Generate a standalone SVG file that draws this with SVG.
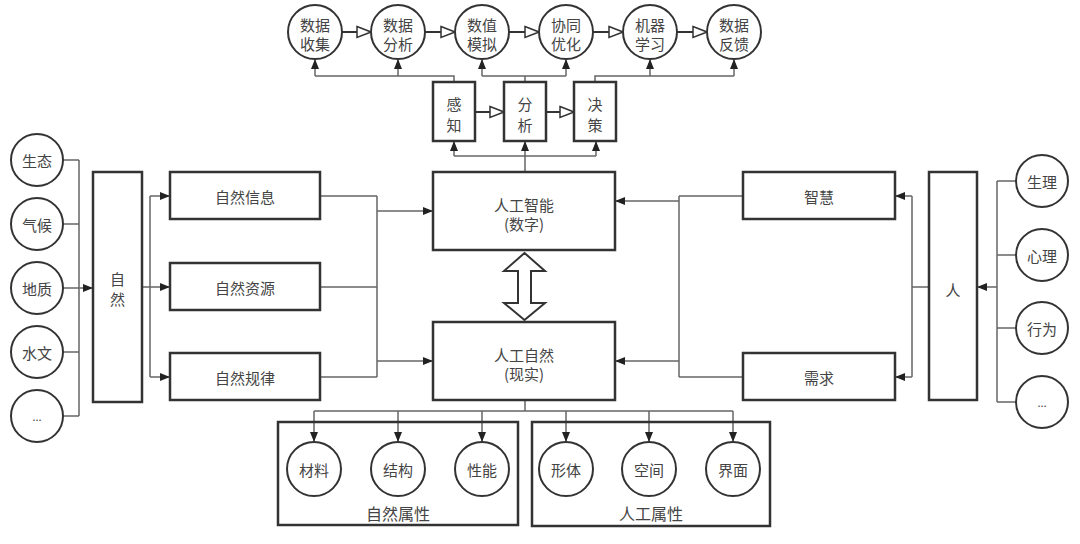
<svg xmlns="http://www.w3.org/2000/svg" width="1080" height="544" viewBox="0 0 1080 544">
<style>
.box{fill:#fff;stroke:#333;stroke-width:2.5}
.cir{fill:#fff;stroke:#333;stroke-width:2}
.ln{fill:none;stroke:#666;stroke-width:1.5}
.ar{fill:none;stroke:#666;stroke-width:1.5;marker-end:url(#fa)}
.ho{fill:none;stroke:#333;stroke-width:2;marker-end:url(#ha)}
.t{font-family:"Noto Sans CJK SC","Noto Sans",sans-serif;font-size:15px;fill:#444;text-anchor:middle;dominant-baseline:central}
.tl{font-size:16px}
</style>
<defs>
<marker id="fa" markerUnits="userSpaceOnUse" markerWidth="10" markerHeight="8" refX="10" refY="4" orient="auto"><path d="M0,0 L10,4 L0,8 z" fill="#222"/></marker>
<marker id="ha" markerUnits="userSpaceOnUse" markerWidth="16" markerHeight="14" refX="15" refY="7" orient="auto"><path d="M1,1.5 L15,7 L1,12.5 z" fill="#fff" stroke="#333" stroke-width="1.5"/></marker>
</defs>
<rect width="1080" height="544" fill="#fff"/>

<g id="connectors">
<path class="ho" d="M342,32 H371"/>
<path class="ho" d="M425,32 H455"/>
<path class="ho" d="M509,32 H539"/>
<path class="ho" d="M593,32 H623"/>
<path class="ho" d="M677,32 H707"/>
<path class="ln" d="M454,82 V76 H315"/>
<path class="ar" d="M315,76 V59"/>
<path class="ar" d="M398,76 V59"/>
<path class="ln" d="M525,82 V76 M482,76 H566"/>
<path class="ar" d="M482,76 V59"/>
<path class="ar" d="M566,76 V59"/>
<path class="ln" d="M595,82 V76 H734"/>
<path class="ar" d="M650,76 V59"/>
<path class="ar" d="M734,76 V59"/>
<path class="ho" d="M475,112 H504"/>
<path class="ho" d="M546,112 H574"/>
<path class="ln" d="M454,156 H596"/>
<path class="ar" d="M525,172 V141"/>
<path class="ar" d="M454,156 V141"/>
<path class="ar" d="M596,156 V141"/>
<path class="ln" d="M63,160 H79 M63,224 H79 M63,352 H79 M63,416 H79 M79,160 V416"/>
<path class="ar" d="M63,288 H93"/>
<path class="ln" d="M142,287 H150 M150,196 V377"/>
<path class="ar" d="M150,196 H170"/>
<path class="ar" d="M150,287 H170"/>
<path class="ar" d="M150,377 H170"/>
<path class="ln" d="M320,196 H377 M320,287 H377 M320,377 H377 M377,196 V377"/>
<path class="ar" d="M377,211 H433"/>
<path class="ar" d="M377,361 H433"/>
<path d="M524.5,253 L545,271 L531,271 L531,303 L545,303 L524.5,320 L504,303 L518,303 L518,271 L504,271 Z" fill="#fff" stroke="#333" stroke-width="2"/>
<path class="ln" d="M743,196 H679 M743,377 H679 M679,196 V377"/>
<path class="ar" d="M679,201 H615"/>
<path class="ar" d="M679,361 H615"/>
<path class="ln" d="M929,287 H912 M912,196 V377"/>
<path class="ar" d="M912,196 H895"/>
<path class="ar" d="M912,377 H895"/>
<path class="ln" d="M1016,181 H997 M1016,255 H997 M1016,328 H997 M1016,402 H997 M997,181 V402"/>
<path class="ar" d="M997,287 H977"/>
<path class="ln" d="M525,400 V411 M314,411 H733"/>
<path class="ar" d="M314,411 V442"/>
<path class="ar" d="M398,411 V442"/>
<path class="ar" d="M482,411 V442"/>
<path class="ar" d="M566,411 V442"/>
<path class="ar" d="M649,411 V442"/>
<path class="ar" d="M733,411 V442"/>
</g>

<g id="c-sjsj"><circle class="cir" cx="315" cy="32" r="27"/><text class="t" x="315" y="24">数据</text><text class="t" x="315" y="43">收集</text></g>
<g id="c-sjfx"><circle class="cir" cx="398" cy="32" r="27"/><text class="t" x="398" y="24">数据</text><text class="t" x="398" y="43">分析</text></g>
<g id="c-szmn"><circle class="cir" cx="482" cy="32" r="27"/><text class="t" x="482" y="24">数值</text><text class="t" x="482" y="43">模拟</text></g>
<g id="c-xtyh"><circle class="cir" cx="566" cy="32" r="27"/><text class="t" x="566" y="24">协同</text><text class="t" x="566" y="43">优化</text></g>
<g id="c-jqxx"><circle class="cir" cx="650" cy="32" r="27"/><text class="t" x="650" y="24">机器</text><text class="t" x="650" y="43">学习</text></g>
<g id="c-sjfk"><circle class="cir" cx="734" cy="32" r="27"/><text class="t" x="734" y="24">数据</text><text class="t" x="734" y="43">反馈</text></g>

<g id="b-gz"><rect class="box" x="433" y="82" width="42" height="59"/><text class="t" x="454" y="103">感</text><text class="t" x="454" y="124">知</text></g>
<g id="b-fx"><rect class="box" x="504" y="82" width="42" height="59"/><text class="t" x="525" y="103">分</text><text class="t" x="525" y="124">析</text></g>
<g id="b-jc"><rect class="box" x="574" y="82" width="42" height="59"/><text class="t" x="595" y="103">决</text><text class="t" x="595" y="124">策</text></g>

<g id="c-st"><circle class="cir" cx="37" cy="160" r="26"/><text class="t" x="37" y="160">生态</text></g>
<g id="c-qh"><circle class="cir" cx="37" cy="224" r="26"/><text class="t" x="37" y="224">气候</text></g>
<g id="c-dz"><circle class="cir" cx="37" cy="288" r="26"/><text class="t" x="37" y="288">地质</text></g>
<g id="c-sw"><circle class="cir" cx="37" cy="352" r="26"/><text class="t" x="37" y="352">水文</text></g>
<g id="c-etc1"><circle class="cir" cx="37" cy="416" r="26"/><text class="t" x="37" y="416" style="font-size:11px">...</text></g>

<g id="b-zr"><rect class="box" x="93" y="172" width="49" height="230"/><text class="t" x="117.5" y="278">自</text><text class="t" x="117.5" y="298">然</text></g>

<g id="b-zrxx"><rect class="box" x="170" y="172" width="150" height="47"/><text class="t" x="245" y="196">自然信息</text></g>
<g id="b-zrzy"><rect class="box" x="170" y="263" width="150" height="47"/><text class="t" x="245" y="287">自然资源</text></g>
<g id="b-zrgl"><rect class="box" x="170" y="353" width="150" height="47"/><text class="t" x="245" y="377">自然规律</text></g>

<g id="b-rgzn"><rect class="box" x="433" y="172" width="182" height="78"/><text class="t" x="524" y="204">人工智能</text><text class="t" x="524" y="223">(数字)</text></g>
<g id="b-rgzr"><rect class="box" x="433" y="322" width="182" height="78"/><text class="t" x="524" y="354">人工自然</text><text class="t" x="524" y="373">(现实)</text></g>

<g id="b-zh"><rect class="box" x="743" y="172" width="152" height="47"/><text class="t" x="819" y="196">智慧</text></g>
<g id="b-xq"><rect class="box" x="743" y="353" width="152" height="47"/><text class="t" x="819" y="377">需求</text></g>
<g id="b-ren"><rect class="box" x="929" y="172" width="48" height="228"/><text class="t" x="953" y="289">人</text></g>

<g id="c-sl"><circle class="cir" cx="1042" cy="181" r="26"/><text class="t" x="1042" y="181">生理</text></g>
<g id="c-xl"><circle class="cir" cx="1042" cy="255" r="26"/><text class="t" x="1042" y="255">心理</text></g>
<g id="c-xw"><circle class="cir" cx="1042" cy="328" r="26"/><text class="t" x="1042" y="328">行为</text></g>
<g id="c-etc2"><circle class="cir" cx="1042" cy="402" r="26"/><text class="t" x="1042" y="402" style="font-size:11px">...</text></g>

<g id="g-zrsx"><rect class="box" x="278" y="422" width="240" height="103" style="fill:none"/><text class="t tl" x="398" y="513">自然属性</text></g>
<g id="g-rgsx"><rect class="box" x="532" y="422" width="238" height="104" style="fill:none"/><text class="t tl" x="651" y="513">人工属性</text></g>

<g id="c-cl"><circle class="cir" cx="314" cy="469" r="27"/><text class="t" x="314" y="469">材料</text></g>
<g id="c-jg"><circle class="cir" cx="398" cy="469" r="27"/><text class="t" x="398" y="469">结构</text></g>
<g id="c-xn"><circle class="cir" cx="482" cy="469" r="27"/><text class="t" x="482" y="469">性能</text></g>
<g id="c-xt"><circle class="cir" cx="566" cy="469" r="27"/><text class="t" x="566" y="469">形体</text></g>
<g id="c-kj"><circle class="cir" cx="649" cy="469" r="27"/><text class="t" x="649" y="469">空间</text></g>
<g id="c-jm"><circle class="cir" cx="733" cy="469" r="27"/><text class="t" x="733" y="469">界面</text></g>
</svg>
